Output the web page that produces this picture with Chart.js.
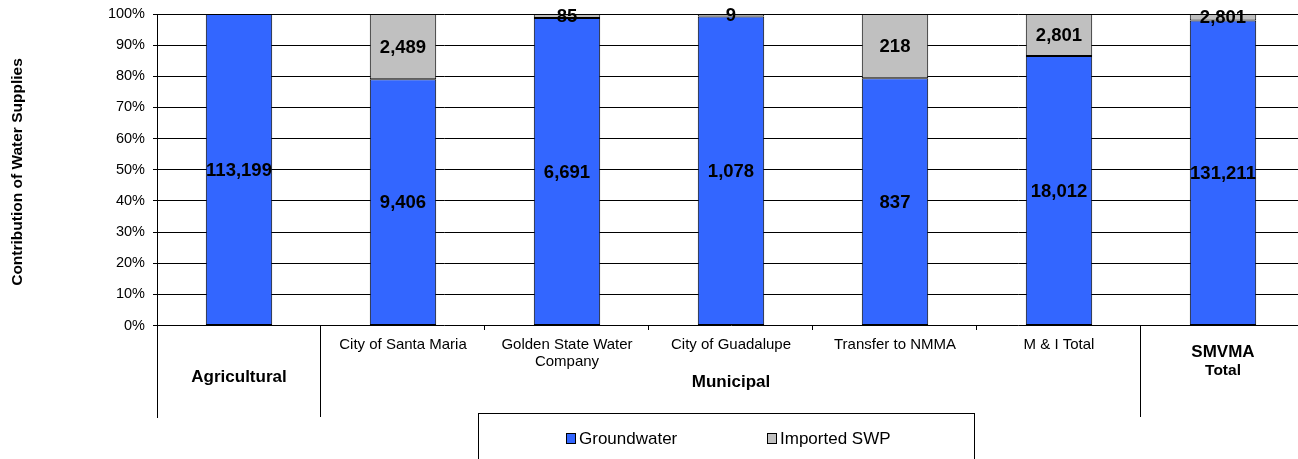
<!DOCTYPE html>
<html>
<head>
<meta charset="utf-8">
<title>Contribution of Water Supplies</title>
<script src="https://cdn.jsdelivr.net/npm/chart.js@4.4.1/dist/chart.umd.min.js"></script>
<style>
  html, body { margin: 0; padding: 0; background: #fff; overflow: hidden; }
  #wrap { position: relative; width: 1305px; height: 459px; }
</style>
</head>
<body>
<div id="wrap"><canvas id="chart"></canvas></div>
<script>
// Categories (second level) and their groups (first level)
const categories = [
  '',
  'City of Santa Maria',
  ['Golden State Water', 'Company'],
  'City of Guadalupe',
  'Transfer to NMMA',
  'M & I Total',
  ''
];
const groupLabels = [['Agricultural'], ['Municipal'], ['SMVMA', 'Total']];
const groupSpans = [[0, 0], [1, 5], [6, 6]];

// Supplies (acre-feet)
const groundwater = [113199, 9406, 6691, 1078, 837, 18012, 131211];
const importedSWP = [0, 2489, 85, 9, 218, 2801, 2801];

const yTicks = [0, 10, 20, 30, 40, 50, 60, 70, 80, 90, 100];

// percentages of each category total
const totals = groundwater.map((g, i) => g + importedSWP[i]);
const gwPct = groundwater.map((g, i) => g / totals[i] * 100);
const swpPct = importedSWP.map((s, i) => s / totals[i] * 100);
const rawValues = [groundwater, importedSWP];

const FONT = 'Arial, "Liberation Sans", Helvetica, sans-serif';

// draws the value labels, the grouped axis, y title and the legend box
const decorations = {
  id: 'decorations',
  afterDatasetsDraw(chart) {
    const ctx = chart.ctx;
    ctx.save();
    ctx.font = 'bold 18.5px ' + FONT;
    ctx.fillStyle = '#000';
    ctx.textAlign = 'center';
    ctx.textBaseline = 'middle';
    chart.data.datasets.forEach((ds, di) => {
      chart.getDatasetMeta(di).data.forEach((bar, i) => {
        const v = rawValues[di][i];
        if (!v) return;
        ctx.fillText(v.toLocaleString('en-US'), bar.x, (bar.y + bar.base) / 2 + 1);
      });
    });
    ctx.restore();
  },
  afterDraw(chart) {
    const ctx = chart.ctx;
    const x = chart.scales.x;
    const area = chart.chartArea;
    ctx.save();

    // separators under the axis
    ctx.strokeStyle = '#000';
    ctx.lineWidth = 1;
    const bounds = [];
    groupSpans.forEach(s => { bounds.push(s[0] - 0.5); });
    for (let i = 0; i < categories.length - 1; i++) {
      const b = i + 0.5;
      const px = Math.round(x.getPixelForValue(b)) - 0.5;
      const isGroup = bounds.includes(b);
      ctx.beginPath();
      ctx.moveTo(px, area.bottom);
      ctx.lineTo(px, isGroup ? 417 : 330);
      ctx.stroke();
    }
    const lx = Math.round(x.getPixelForValue(-0.5)) + 0.5;
    ctx.beginPath();
    ctx.moveTo(lx, area.bottom);
    ctx.lineTo(lx, 418);
    ctx.stroke();

    // group labels
    ctx.fillStyle = '#000';
    ctx.textAlign = 'center';
    ctx.textBaseline = 'middle';
    const groupY = [[377], [382], [352, 371]];
    const groupSize = [[17], [17], [17, 15.5]];
    groupLabels.forEach((lines, g) => {
      const cx = (x.getPixelForValue(groupSpans[g][0] - 0.5) + x.getPixelForValue(groupSpans[g][1] + 0.5)) / 2;
      lines.forEach((t, k) => {
        ctx.font = 'bold ' + groupSize[g][k] + 'px ' + FONT;
        ctx.fillText(t, cx, groupY[g][k]);
      });
    });

    // y axis title
    ctx.save();
    ctx.translate(18, 172);
    ctx.rotate(-Math.PI / 2);
    ctx.font = 'bold 15.5px ' + FONT;
    ctx.fillText('Contribution of Water Supplies', 0, 0);
    ctx.restore();

    // legend
    ctx.strokeStyle = '#000';
    ctx.strokeRect(478.5, 413.5, 496, 60);
    const items = [{ x: 566, ds: 0 }, { x: 767, ds: 1 }];
    ctx.font = '17px ' + FONT;
    ctx.textAlign = 'left';
    items.forEach(it => {
      const ds = chart.data.datasets[it.ds];
      ctx.fillStyle = ds.backgroundColor;
      ctx.fillRect(it.x, 433, 9, 10);
      ctx.strokeStyle = '#000';
      ctx.strokeRect(it.x + 0.5, 433.5, 9, 10);
      ctx.fillStyle = '#000';
      ctx.fillText(ds.label, it.x + 13, 439);
    });
    ctx.restore();
  }
};

new Chart(document.getElementById('chart'), {
  type: 'bar',
  data: {
    labels: categories,
    datasets: [
      {
        label: 'Groundwater',
        data: gwPct,
        backgroundColor: '#3366FF',
        borderColor: '#000',
        borderWidth: 1,
        borderSkipped: false
      },
      {
        label: 'Imported SWP',
        data: swpPct,
        backgroundColor: '#C0C0C0',
        borderColor: '#000',
        borderWidth: 1,
        borderSkipped: false
      }
    ]
  },
  options: {
    responsive: true,
    maintainAspectRatio: false,
    animation: false,
    devicePixelRatio: 1,
    layout: { padding: { top: 14, left: 0, right: 0, bottom: 0 } },
    datasets: {
      bar: { categoryPercentage: 1, barPercentage: 0.405 }
    },
    plugins: {
      legend: { display: false },
      tooltip: { enabled: false }
    },
    scales: {
      x: {
        stacked: true,
        grid: { display: false },
        border: { display: false },
        afterFit(scale) {
          scale.height = 133.5;
          scale.paddingLeft = 0;
          scale.paddingRight = 0;
        },
        ticks: {
          autoSkip: false,
          maxRotation: 0,
          minRotation: 0,
          padding: 3,
          color: '#000',
          font: { family: FONT, size: 15, lineHeight: 1.13 }
        }
      },
      y: {
        stacked: true,
        min: 0,
        max: 100,
        afterFit(scale) {
          scale.width = 157;
          scale.paddingTop = 0;
          scale.paddingBottom = 0;
        },
        afterBuildTicks(scale) { scale.ticks = yTicks.map(v => ({ value: v })); },
        grid: { color: '#000', tickLength: 4, lineWidth: 1 },
        border: { display: true, color: '#000' },
        ticks: {
          padding: 8,
          color: '#000',
          font: { family: FONT, size: 14.5 },
          callback: v => v + '%'
        }
      }
    }
  },
  plugins: [decorations]
});
</script>
</body>
</html>
